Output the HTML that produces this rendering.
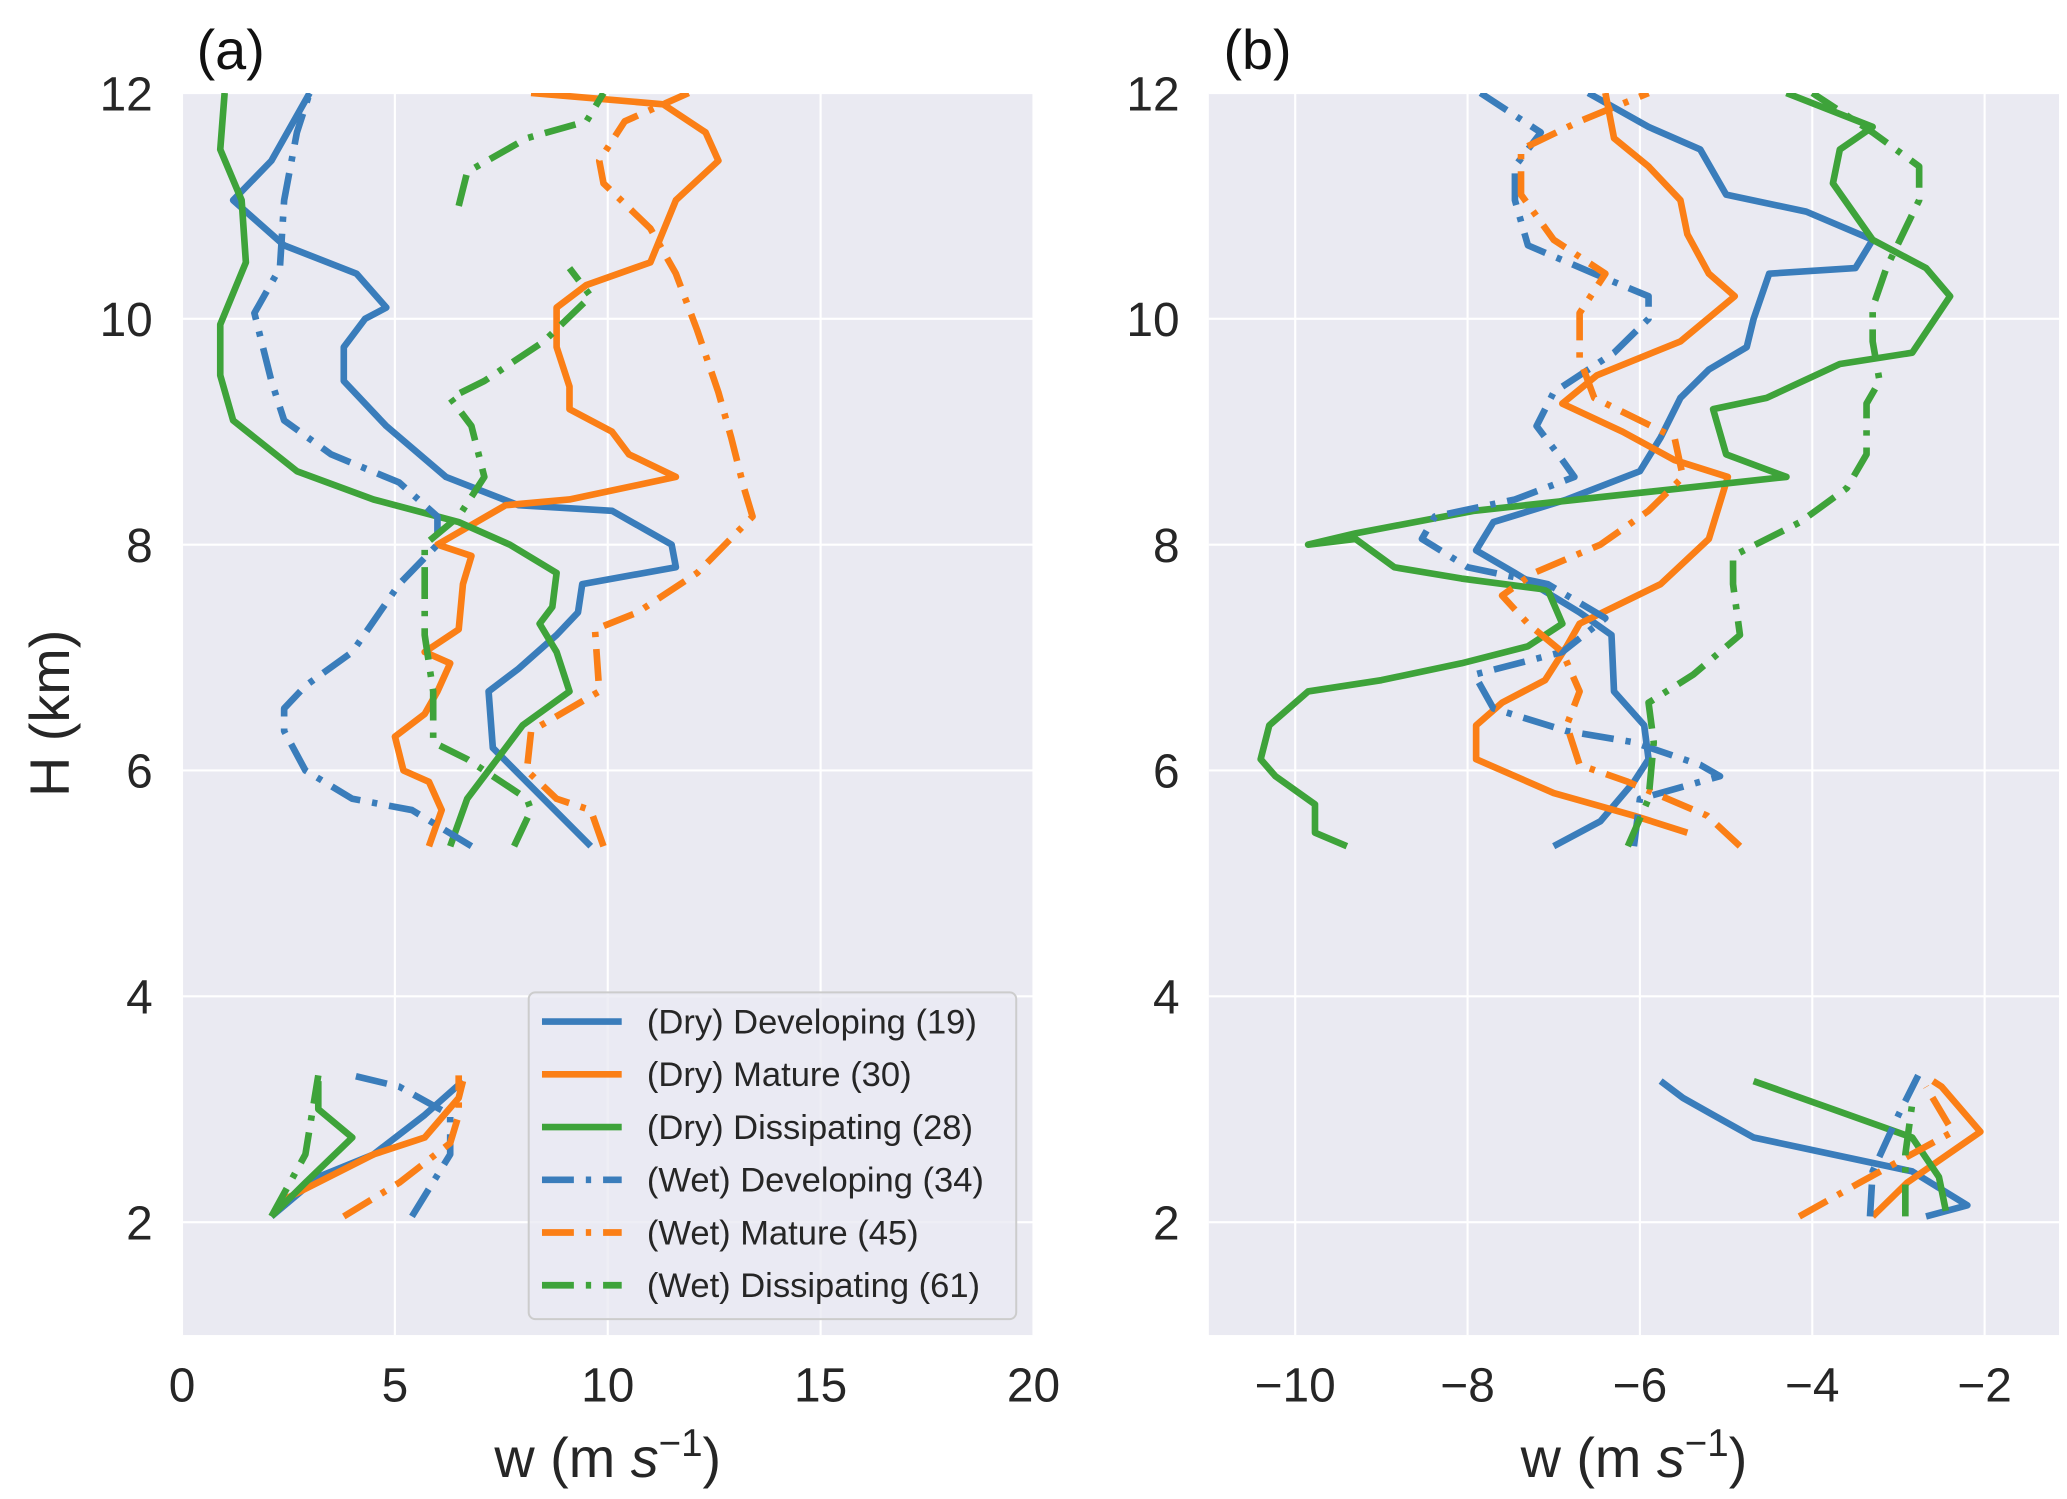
<!DOCTYPE html>
<html><head><meta charset="utf-8"><style>
html,body{margin:0;padding:0;background:#fff;}
svg{display:block;font-family:"Liberation Sans","DejaVu Sans",sans-serif;}
</style></head><body>
<svg id="chart" width="2067" height="1499" viewBox="0 0 1556 1128.4">
<g id="root"></g>
</svg>
<script>
// ---------------- DATA ----------------
const yTicks = [2,4,6,8,10,12];
const aXTicks = [0,5,10,15,20];
const bXTicks = [-10,-8,-6,-4,-2];
const seriesNames = ["(Dry) Developing (19)","(Dry) Mature (30)","(Dry) Dissipating (28)","(Wet) Developing (34)","(Wet) Mature (45)","(Wet) Dissipating (61)"];
// panel a
const aDryDevH=[5.33,6.2,6.7,6.9,7.2,7.4,7.65,7.8,8.0,8.3,8.35,8.6,9.05,9.45,9.75,10.0,10.1,10.4,10.65,11.05,11.4,12,null,2.05,2.4,2.6,2.95,3.25];
const aDryDevW=[9.6,7.3,7.2,7.9,8.8,9.3,9.4,11.6,11.5,10.1,7.9,6.2,4.8,3.8,3.8,4.3,4.8,4.1,2.4,1.2,2.1,3.0,null,2.1,3.2,4.5,5.7,6.6];
const aDryMatH=[5.33,5.65,5.9,6.0,6.3,6.5,6.7,6.95,7.05,7.25,7.65,7.9,8.0,8.35,8.4,8.6,8.8,9.0,9.2,9.4,9.75,10.1,10.3,10.5,11.05,11.4,11.65,11.9,12,null,2.2,2.6,2.75,3.1,3.25];
const aDryMatW=[5.8,6.1,5.8,5.2,5.0,5.7,6.0,6.3,5.7,6.5,6.6,6.8,6.0,7.6,9.1,11.6,10.5,10.1,9.1,9.1,8.8,8.8,9.5,11.0,11.6,12.6,12.3,11.3,8.2,null,2.4,4.5,5.7,6.5,6.6];
const aDryDisH=[5.33,5.75,6.1,6.4,6.7,7.05,7.3,7.45,7.75,8.0,8.2,8.4,8.65,9.1,9.5,9.95,10.5,11.05,11.5,12,null,2.05,2.35,2.75,3.0,3.25];
const aDryDisW=[6.3,6.7,7.4,8.0,9.1,8.8,8.4,8.7,8.8,7.7,6.5,4.5,2.7,1.2,0.9,0.9,1.5,1.4,0.9,1.0,null,2.1,2.9,4.0,3.2,3.2];
const aWetDevH=[5.33,5.65,5.75,6.0,6.35,6.55,6.75,7.05,7.65,8.0,8.25,8.55,8.8,9.1,9.45,10.05,10.45,11.05,11.65,12,null,2.05,2.6,2.95,3.2,3.3];
const aWetDevW=[6.8,5.4,4.0,2.9,2.4,2.4,2.9,4.0,5.1,6.0,6.0,5.1,3.5,2.4,2.1,1.7,2.3,2.4,2.7,3.0,null,5.4,6.3,6.3,5.1,4.0];
const aWetMatH=[5.33,5.65,5.75,6.0,6.35,6.7,7.25,7.4,7.75,8.25,8.5,8.95,9.35,9.9,10.4,10.8,11.2,11.4,11.75,12,null,2.05,2.35,2.7,2.95,3.3];
const aWetMatW=[9.9,9.6,8.8,8.1,8.2,9.8,9.7,10.7,12.1,13.4,13.2,12.9,12.6,12.1,11.6,11.0,9.9,9.8,10.4,11.9,null,3.8,5.1,6.3,6.5,6.5];
const aWetDisH=[5.33,5.65,5.75,6.1,6.25,6.7,7.2,7.65,8.0,8.25,8.6,9.05,9.3,9.45,9.8,10.2,10.45,null,11.0,11.3,11.6,11.75,12,null,2.05,2.6,3.3];
const aWetDisW=[7.8,8.2,8.1,6.7,5.9,5.9,5.7,5.7,5.7,6.5,7.1,6.8,6.3,7.1,8.5,9.6,9.1,null,6.5,6.7,8.1,9.5,9.9,null,2.1,2.9,3.2];
// panel b
const bDryDevH=[5.33,5.55,5.9,6.1,6.4,6.7,7.2,7.4,7.75,7.95,8.2,8.4,8.65,8.95,9.3,9.55,9.75,10.0,10.4,10.45,10.7,10.95,11.1,11.5,11.7,12,null,2.05,2.15,2.45,2.75,2.95,3.1,3.25];
const bDryDevW=[-7.0,-6.46,-6.07,-5.9,-5.95,-6.3,-6.33,-6.7,-7.45,-7.9,-7.7,-6.85,-6.0,-5.76,-5.53,-5.2,-4.76,-4.68,-4.5,-3.5,-3.3,-4.07,-5.0,-5.3,-5.9,-6.6,null,-2.68,-2.2,-2.84,-4.68,-5.15,-5.5,-5.76];
const bDryMatH=[5.45,5.6,5.8,6.1,6.4,6.6,6.8,7.1,7.3,7.65,8.05,8.6,8.75,9.0,9.25,9.5,9.8,10.2,10.4,10.75,11.05,11.35,11.6,12,null,2.05,2.35,2.8,3.2,3.25];
const bDryMatW=[-5.45,-6.07,-7.0,-7.9,-7.9,-7.6,-7.1,-6.85,-6.7,-5.76,-5.2,-4.98,-5.6,-6.2,-6.9,-6.5,-5.53,-4.9,-5.2,-5.45,-5.53,-5.9,-6.3,-6.4,null,-3.3,-2.9,-2.05,-2.5,-2.6];
const bDryDisH=[5.33,5.45,5.7,5.95,6.1,6.4,6.7,6.8,6.95,7.1,7.3,7.6,7.7,7.8,8.05,8.0,8.1,8.3,8.6,8.8,9.2,9.3,9.6,9.7,10.2,10.45,10.7,11.2,11.5,11.7,12,null,2.1,2.4,2.75,3.0,3.25];
const bDryDisW=[-9.4,-9.77,-9.77,-10.23,-10.4,-10.3,-9.85,-9.0,-8.07,-7.3,-6.9,-7.07,-8.07,-8.85,-9.3,-9.85,-9.3,-7.92,-4.3,-5.0,-5.15,-4.53,-3.68,-2.84,-2.4,-2.68,-3.3,-3.76,-3.68,-3.3,-4.3,null,-2.45,-2.53,-2.84,-3.76,-4.68];
const bWetDevH=[5.33,5.75,5.95,6.05,6.25,6.35,6.55,6.85,7.05,7.35,7.65,7.8,8.05,8.25,8.4,8.6,8.75,9.05,9.35,9.7,10.0,10.2,10.4,10.65,11.05,11.35,11.65,12,null,2.05,2.45,2.95,3.3];
const bWetDevW=[-6.07,-6.0,-5.07,-5.3,-6.07,-6.85,-7.7,-7.92,-6.9,-6.4,-7.07,-8.0,-8.53,-8.38,-7.45,-6.76,-6.9,-7.2,-7.0,-6.3,-5.9,-5.9,-6.53,-7.3,-7.45,-7.45,-7.15,-7.85,null,-3.33,-3.3,-3.0,-2.77];
const bWetMatH=[5.33,5.6,5.75,5.9,6.05,6.4,6.7,7.05,7.3,7.55,7.75,8.0,8.3,8.6,8.95,9.3,9.65,10.05,10.4,10.7,11.1,11.5,11.75,12,null,2.05,2.35,2.8,3.2];
const bWetMatW=[-4.84,-5.22,-5.68,-6.14,-6.7,-6.85,-6.7,-6.9,-7.3,-7.6,-7.23,-6.46,-5.9,-5.5,-5.6,-6.53,-6.7,-6.7,-6.4,-7.0,-7.38,-7.38,-6.7,-5.9,null,-4.15,-3.45,-2.37,-2.68];
const bWetDisH=[5.33,5.75,6.25,6.6,6.85,7.2,7.65,7.9,8.2,8.5,8.8,9.25,9.45,9.8,10.1,10.45,11.05,11.35,11.65,12,null,2.05,2.6,3.05];
const bWetDisW=[-6.14,-5.9,-5.84,-5.9,-5.38,-4.84,-4.92,-4.92,-4.14,-3.6,-3.37,-3.37,-3.22,-3.3,-3.3,-3.14,-2.76,-2.76,-3.3,-4.0,null,-2.92,-2.92,-2.84];

// ---------------- RENDER ----------------
const NS="http://www.w3.org/2000/svg";
const root=document.getElementById('root');
const COLORS=["#3a7dbb","#fb7f16","#3ea33a"];
const DASH="24,9,4,9";
function mk(tag,attrs,parent){const e=document.createElementNS(NS,tag);for(const k in attrs)e.setAttribute(k,attrs[k]);(parent||root).appendChild(e);return e;}
const yTop=70,yBot=1005;
function ys(h){return 70+(12-h)*85;}
function makeX(x0,x1,v0,v1){return v=>x0+(v-v0)/(v1-v0)*(x1-x0);}
const panels=[
 {id:'a',x0:137,x1:778,xs:makeX(137,778,0,20),ticks:aXTicks,label:'(a)',
  series:[[aDryDevW,aDryDevH],[aDryMatW,aDryMatH],[aDryDisW,aDryDisH],[aWetDevW,aWetDevH],[aWetMatW,aWetMatH],[aWetDisW,aWetDisH]]},
 {id:'b',x0:910,x1:1550,xs:makeX(975,1494,-10,-2),ticks:bXTicks,label:'(b)',
  series:[[bDryDevW,bDryDevH],[bDryMatW,bDryMatH],[bDryDisW,bDryDisH],[bWetDevW,bWetDevH],[bWetMatW,bWetMatH],[bWetDisW,bWetDisH]]}
];
panels.forEach(p=>{
  const g=mk('g',{});
  
  
  const bg=mk('rect',{x:p.x0,y:yTop,width:p.x1-p.x0,height:yBot-yTop,fill:'#eaeaf2'},g);
  
  
  yTicks.forEach(t=>{
    const l=mk('line',{x1:p.x0,x2:p.x1,y1:ys(t),y2:ys(t),stroke:'#fff','stroke-width':1.6},g);
    
    
    const tx=mk('text',{x:p.x0-22,y:ys(t)+13,'text-anchor':'end','font-size':36,fill:'#262626'},g);
    tx.textContent=t;
    
    
  });
  p.ticks.forEach(t=>{
    const x=p.xs(t);
    const l=mk('line',{x1:x,x2:x,y1:yTop,y2:yBot,stroke:'#fff','stroke-width':1.6},g);
    
    
    const tx=mk('text',{x:x,y:1055,'text-anchor':'middle','font-size':36,fill:'#262626'},g);
    tx.textContent=t<0?'\u2212'+Math.abs(t):t;
    
    
  });
  const clip=mk('clipPath',{id:'clip'+p.id},g);
  mk('rect',{x:p.x0,y:yTop,width:p.x1-p.x0,height:yBot-yTop},clip);
  p.series.forEach((s,i)=>{
    const [W,H]=s;let d='';let pen=false;
    for(let k=0;k<W.length;k++){
      if(W[k]===null){pen=false;continue;}
      d+=(pen?'L':'M')+p.xs(W[k]).toFixed(1)+' '+ys(H[k]).toFixed(1);pen=true;
    }
    const path=mk('path',{d:d,fill:'none',stroke:COLORS[i%3],'stroke-width':5,'stroke-linejoin':'round','clip-path':'url(#clip'+p.id+')'},g);
    if(i>=3)path.setAttribute('stroke-dasharray',DASH);
    
    
  });
  const lab=mk('text',{x:p.x0+11,y:52,'font-size':42,fill:'#111'},g);
  lab.textContent=p.label;
  
  
  const cx=(p.x0+p.x1)/2;
  const xl=mk('text',{x:cx,y:1112,'text-anchor':'middle','font-size':42,fill:'#262626'},g);
  xl.innerHTML='w (m <tspan font-style="italic">s</tspan><tspan dy="-16" font-size="29">\u22121</tspan><tspan dy="16">)</tspan>';
  
  
});
const yl=mk('text',{x:0,y:0,'text-anchor':'middle','font-size':42,fill:'#262626',transform:'translate(52,537) rotate(-90)'});
yl.textContent='H (km)';


// legend
const lg=mk('g',{});


mk('rect',{x:398,y:747,width:367,height:246,rx:5,fill:'#eaeaf2','fill-opacity':0.8,stroke:'#cccccc','stroke-width':1.5},lg);
seriesNames.forEach((n,i)=>{
  const y=769+i*39.7;
  const ln=mk('line',{x1:408,x2:468,y1:y,y2:y,stroke:COLORS[i%3],'stroke-width':5},lg);
  if(i>=3)ln.setAttribute('stroke-dasharray',DASH);
  
  
  const t=mk('text',{x:487,y:y+9,'font-size':26,fill:'#262626'},lg);
  t.textContent=n;
  
  
});
</script>
</body></html>
